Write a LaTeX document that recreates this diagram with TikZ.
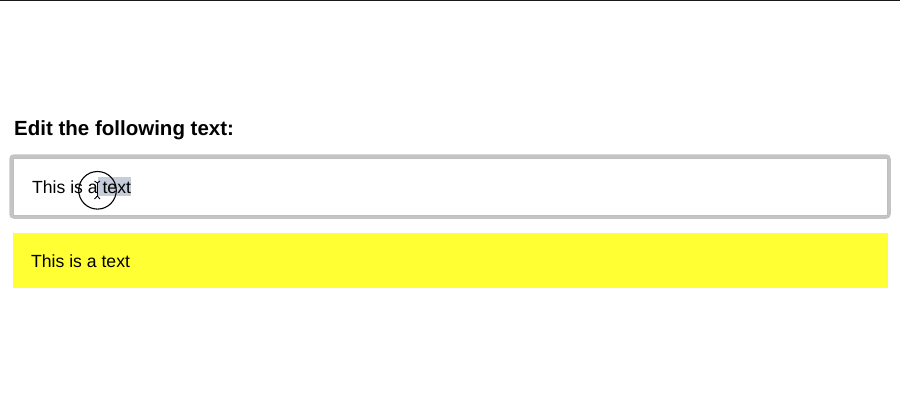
\documentclass[tikz,border=0pt]{standalone}
\usepackage{fontspec}
\setmainfont{Liberation Sans}
\definecolor{boxgray}{HTML}{C4C4C4}
\definecolor{selblue}{HTML}{C5CDD8}
\definecolor{noteyellow}{HTML}{FFFF33}
\begin{document}
\begin{tikzpicture}[x=1pt,y=-1pt]

    \tikzset{
      label/.style={
        anchor=base west,
        inner sep=0pt,
        font=\fontsize{17.6}{20}\selectfont,
      },
      heading/.style={
        anchor=base west,
        inner sep=0pt,
        font=\fontsize{20.5}{24}\selectfont\bfseries,
      },
    }
    \useasboundingbox (0,0) rectangle (900,410);
	\draw[color={black!90},line width=1.5pt] (0,0.5)--(900,0.5);

	\node[heading] (title) at (14,135.5) {Edit the following text:};

	% input field
	\draw[color={boxgray},line width=3.5pt,rounded corners=3pt,fill=white] (11,156)--(889,156)--(889,217)--(11,217)--cycle;
	\draw[color={black!25},line width=0.6pt] (13,158)--(887,158)--(887,215)--(13,215)--cycle;
	\fill[color={selblue}] (98,177) rectangle (131,196);
	\node[label] (input) at (32,193) {This is a text};

	% cursor
	\draw[color={black},line width=1.1pt] (97.5,190.3) circle (18.8);
	\draw[color={black},line width=0.9pt] (94.5,181)--(97.3,183)--(100,181);
	\draw[color={black},line width=0.9pt] (97.3,183)--(97.3,196);
	\draw[color={black},line width=0.9pt] (94.5,199)--(97.3,196)--(100,199);

	% output
	\fill[color={noteyellow}] (13,233) rectangle (888,288);
	\node[label] (output) at (31,267) {This is a text};

\end{tikzpicture}
\end{document}
